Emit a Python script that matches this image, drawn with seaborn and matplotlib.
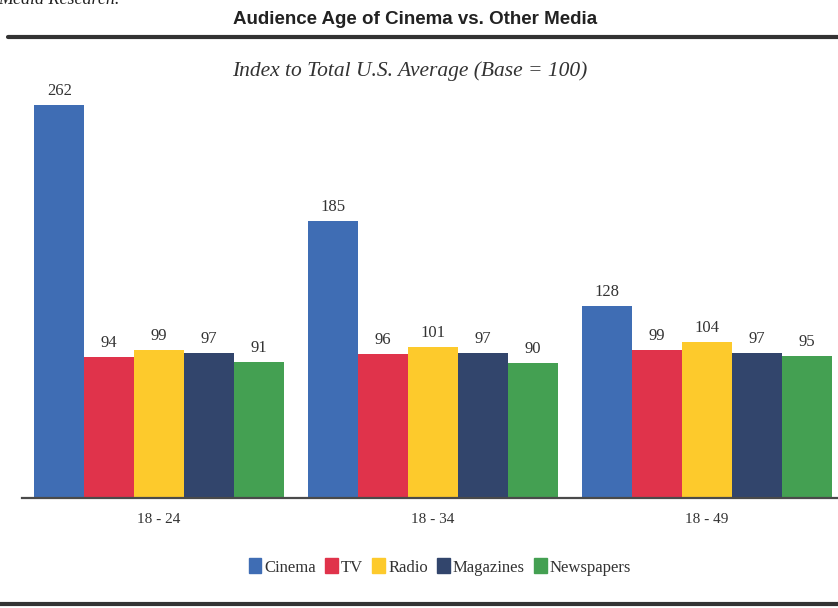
import pandas as pd
import seaborn as sns
import matplotlib.pyplot as plt
from matplotlib.lines import Line2D

# --- dados ---
age_groups = ["18 - 24", "18 - 34", "18 - 49"]
media = ["Cinema", "TV", "Radio", "Magazines", "Newspapers"]
cinema = [262, 185, 128]
tv = [94, 96, 99]
radio = [99, 101, 104]
magazines = [97, 97, 97]
newspapers = [91, 90, 95]
colors = ["#3F6DB4", "#E0334B", "#FDCA2C", "#32456C", "#44A052"]

series = [cinema, tv, radio, magazines, newspapers]
rows = []
for m, vals in zip(media, series):
    for g, v in zip(age_groups, vals):
        rows.append({"Grupo": g, "Midia": m, "Indice": v})
df = pd.DataFrame(rows)

sns.set_style("white")
serif = ["Liberation Serif", "DejaVu Serif"]
sans = ["Liberation Sans", "DejaVu Sans"]

fig = plt.figure(figsize=(8.38, 6.08), dpi=100)
W, H = 838, 608
# eixo: linha base em y=498px, esquerda em x=22px
ax = fig.add_axes([22 / W, (H - 498) / H, 1 - 22 / W, (498 - 80) / H])

sns.barplot(data=df, x="Grupo", y="Indice", hue="Midia", hue_order=media,
            order=age_groups, palette=colors, saturation=1, width=0.91,
            gap=0, linewidth=0, ax=ax, legend=False)

for cont in ax.containers:
    ax.bar_label(cont, padding=4, fontsize=12, family=serif, color="#333333")

ax.set_xlim(-0.5, 2.478)
ax.set_ylim(0, 418 / 1.5)
ax.set_xlabel("")
ax.set_ylabel("")
ax.set_yticks([])
ax.tick_params(axis="x", length=0, pad=11, labelsize=11, labelcolor="#333333")
for lab in ax.get_xticklabels():
    lab.set_family(serif)
for s in ["top", "right", "left"]:
    ax.spines[s].set_visible(False)
ax.spines["bottom"].set_color("#4a4a4a")
ax.spines["bottom"].set_linewidth(1.6)

# titulos
fig.text(415 / W, 1 - 19 / H, "Audience Age of Cinema vs. Other Media",
         ha="center", va="center", fontsize=13.5, fontweight="bold",
         family=sans, color="#222222")
fig.text(410 / W, 1 - 71 / H, "Index to Total U.S. Average (Base = 100)",
         ha="center", va="center", fontsize=15.5, style="italic",
         family=serif, color="#333333")
fig.text(-2 / W, 1 + 1 / H, "Media Research.", ha="left", va="center",
         fontsize=13, style="italic", family=serif, color="#222222")

# linhas horizontais
fig.add_artist(Line2D([8 / W, 1], [1 - 37 / H] * 2, color="#333333", lw=3))
fig.add_artist(Line2D([0, 1], [1 - 604 / H] * 2, color="#333333", lw=3))

# legenda
handles = [plt.Rectangle((0, 0), 1, 1, color=c) for c in colors]
leg = fig.legend(handles, media, loc="center", bbox_to_anchor=(440 / W, 1 - 567 / H),
                 ncol=5, frameon=False, handlelength=0.75, handleheight=1.0,
                 handletextpad=0.2, columnspacing=0.55,
                 prop={"family": serif, "size": 12})
for t in leg.get_texts():
    t.set_color("#333333")

fig.savefig("out.png", dpi=100)
